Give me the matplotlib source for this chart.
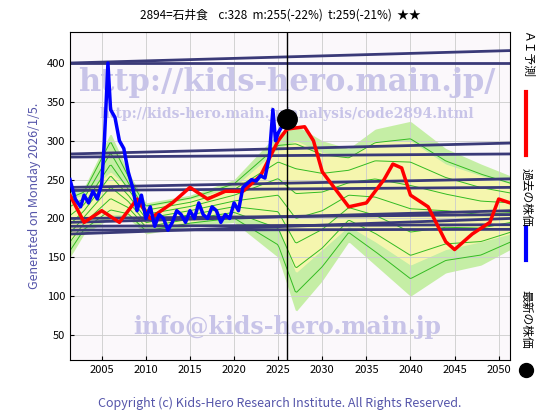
import numpy as np
import matplotlib.pyplot as plt

plt.rcParams['font.family'] = ['Noto Sans CJK JP', 'DejaVu Sans']

# past price (blue)
past_x = [2001.4, 2002, 2002.6, 2003, 2003.5, 2004, 2004.5, 2005, 2005.3, 2005.7, 2006, 2006.5,
          2007, 2007.5, 2008, 2008.5, 2009, 2009.5, 2010, 2010.5, 2011, 2011.5, 2012, 2012.5,
          2013, 2013.5, 2014, 2014.5, 2015, 2015.5, 2016, 2016.5, 2017, 2017.5, 2018, 2018.5,
          2019, 2019.5, 2020, 2020.5, 2021, 2021.5, 2022, 2022.5, 2023, 2023.5, 2024, 2024.4,
          2024.7, 2025, 2025.5, 2026]
past_y = [250, 225, 215, 230, 220, 235, 225, 245, 300, 400, 340, 330,
          300, 290, 260, 240, 210, 230, 200, 215, 190, 205, 200, 185,
          195, 210, 205, 195, 210, 200, 220, 205, 200, 215, 210, 195,
          205, 200, 220, 210, 240, 245, 250, 248, 255, 252, 280, 340,
          300, 310, 320, 328]

# AI forecast (red)
ai_x = [2001.4, 2003, 2005, 2007, 2009, 2010.5, 2013, 2015, 2017, 2019, 2021, 2023, 2025,
        2026, 2028, 2029, 2030, 2032, 2033, 2035, 2037, 2038, 2039, 2040, 2042, 2044, 2045,
        2047, 2049, 2050, 2051.3]
ai_y = [230, 195, 210, 195, 225, 200, 220, 240, 225, 235, 235, 255, 300,
        315, 318, 300, 260, 230, 215, 220, 250, 270, 265, 230, 215, 170, 160,
        180, 195, 225, 220]

# green envelope
env_x = [2001.4, 2003, 2006, 2008, 2010, 2015, 2020, 2025, 2027, 2030, 2033, 2036, 2040, 2044, 2048, 2051.3]
env_hi = [235, 240, 310, 260, 220, 230, 250, 310, 320, 300, 290, 315, 325, 290, 270, 255]
env_lo = [150, 180, 200, 200, 180, 190, 195, 150, 80, 120, 170, 140, 100, 130, 140, 160]
yel_hi = [225, 230, 260, 240, 215, 225, 240, 290, 300, 285, 280, 300, 300, 270, 255, 245]
yel_lo = [170, 190, 205, 205, 190, 195, 205, 190, 130, 160, 190, 170, 140, 160, 170, 180]

# trend lines (start, end)
trend = [(400, 400), (400, 416), (283, 297), (279, 283), (240, 251), (236, 240),
         (200, 205), (195, 210), (190, 192), (185, 186), (180, 200)]

last_x, last_y = 2026, 328

fig = plt.figure(figsize=(5.6, 4.2), dpi=100)
ax = fig.add_axes([0.125, 0.143, 0.786, 0.781])
ax.set_facecolor('#fbf8fb')

xs = np.linspace(2001.4, 2051.3, 300)
ax.fill_between(xs, np.interp(xs, env_x, env_lo), np.interp(xs, env_x, env_hi),
                color='#b8ec90', alpha=0.8, lw=0)
ax.fill_between(xs, np.interp(xs, env_x, yel_lo), np.interp(xs, env_x, yel_hi),
                color='#fbf8b0', alpha=0.9, lw=0)
for k in np.linspace(0.1, 0.9, 7):
    g = np.interp(xs, env_x, env_lo) * (1 - k) + np.interp(xs, env_x, env_hi) * k
    ax.plot(xs, g, color='#33bb22', lw=0.7)

for a, b in trend:
    ax.plot([2001.4, 2051.3], [a, b], color='#3a3a78', lw=2)

ax.plot(ai_x, ai_y, color='red', lw=2.5, zorder=5)
ax.plot(past_x, past_y, color='blue', lw=2.5, zorder=6)
ax.axvline(last_x, color='black', lw=1, zorder=4)
ax.plot(last_x, last_y, 'o', color='black', ms=14, zorder=7)

wm = '#c8c4e8'
ax.text(2026, 375, 'http://kids-hero.main.jp/', fontsize=22, family='DejaVu Serif',
        weight='bold', color=wm, ha='center', va='center', zorder=3)
ax.text(2026, 335, 'http://kids-hero.main.jp/analysis/code2894.html', fontsize=10,
        family='DejaVu Serif', weight='bold', color=wm, ha='center', va='center', zorder=3)
ax.text(2026, 60, 'info@kids-hero.main.jp', fontsize=17, family='DejaVu Serif',
        weight='bold', color=wm, ha='center', va='center', zorder=3)

ax.set_xlim(2001.4, 2051.3)
ax.set_ylim(18, 440)
ax.set_xticks(range(2005, 2051, 5))
ax.set_yticks(range(50, 401, 50))
ax.grid(True, color='#cccccc', lw=0.6)
ax.tick_params(labelsize=8, length=3, direction='in')
ax.set_ylabel('Generated on Monday 2026/1/5.', color='#5555aa', fontsize=9)

fig.text(0.5, 0.955, '2894=石井食    c:328  m:255(-22%)  t:259(-21%)  ★★',
         ha='center', fontsize=8.5)
fig.text(0.5, 0.03, 'Copyright (c) Kids-Hero Research Institute. All Rights Reserved.',
         ha='center', color='#5555aa', fontsize=9)

# right legend
fig.text(0.94, 0.87, 'ＡＩ予測', rotation=270, fontsize=8.5, ha='center', va='center')
fig.add_artist(plt.Line2D([0.94, 0.94], [0.63, 0.78], color='red', lw=3))
fig.text(0.94, 0.53, '過去の株価', rotation=270, fontsize=8.5, ha='center', va='center')
fig.add_artist(plt.Line2D([0.94, 0.94], [0.38, 0.46], color='blue', lw=3))
fig.text(0.94, 0.24, '最新の株価', rotation=270, fontsize=8.5, ha='center', va='center')
fig.add_artist(plt.Line2D([0.94], [0.12], marker='o', color='black', ms=10))

fig.savefig('out.png')
